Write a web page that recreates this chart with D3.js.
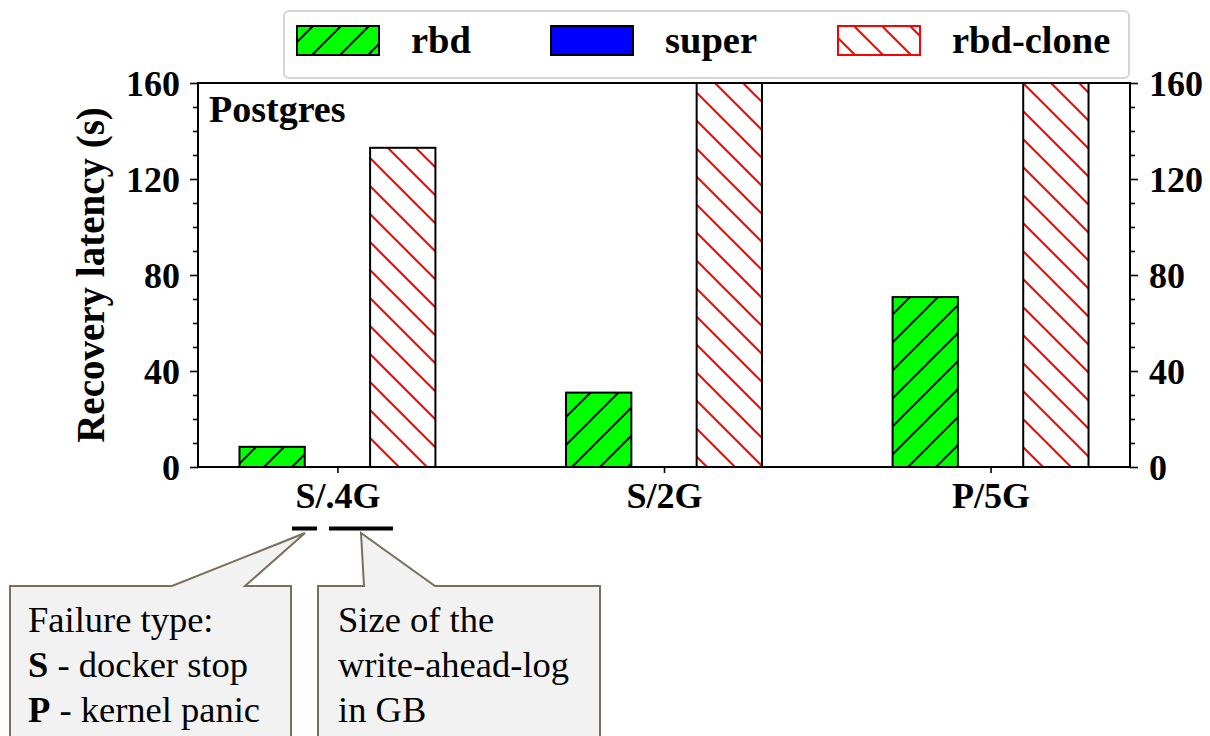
<!DOCTYPE html>
<html>
<head>
<meta charset="utf-8">
<script src="https://cdn.jsdelivr.net/npm/d3@7"></script>
<style>
  html, body { margin: 0; padding: 0; background: #fff; }
  svg { display: block; }
  text { font-family: "Liberation Serif", "Times New Roman", serif; }
</style>
</head>
<body>
<svg id="chart" width="1210" height="736"></svg>
<script>
// Workload configurations: failure type / write-ahead-log size
const categories = ["S/.4G", "S/2G", "P/5G"];
const seriesNames = ["rbd", "super", "rbd-clone"];
// Recovery latency in seconds (rbd-clone runs past the 160 s axis limit on S/2G and P/5G)
const rbdValues = [8.4, 31, 70.8];
const superValues = [0, 0, 0];
const rbdCloneValues = [133, 205, 240];
const yTicks = [0, 40, 80, 120, 160];
const yMinorTicks = [10, 20, 30, 50, 60, 70, 90, 100, 110, 130, 140, 150];

const svg = d3.select("#chart");
const plot = { left: 198, right: 1130, top: 83, bottom: 467 };

const x = d3.scalePoint().domain(categories).range([plot.left, plot.right]).padding(0.427);
const barW = x.step() * 0.2;
const offset = d3.scalePoint().domain(seriesNames).range([-barW, barW]);
const y = d3.scaleLinear().domain([0, 160]).range([plot.bottom, plot.top]);

// Hatch patterns
const defs = svg.append("defs");
const P = 28;
function hatch(id, dir, color, bg, shift) {
  const p = defs.append("pattern")
    .attr("id", id)
    .attr("patternUnits", "userSpaceOnUse")
    .attr("width", P).attr("height", P)
    .attr("patternTransform", `translate(${shift},0)`);
  p.append("rect").attr("width", P).attr("height", P).attr("fill", bg);
  const segs = dir === "/"
    ? [[-P, P, P, -P], [0, P, P, 0], [0, 2 * P, 2 * P, 0]]
    : [[-P, 0, P, 2 * P], [0, 0, P, P], [0, -P, 2 * P, P]];
  segs.forEach(s => p.append("line")
    .attr("x1", s[0]).attr("y1", s[1]).attr("x2", s[2]).attr("y2", s[3])
    .attr("stroke", color).attr("stroke-width", 2));
}
hatch("hatch-rbd", "/", "#000", "#00ff00", 3);
hatch("hatch-clone", "\\", "#ff0000", "#ffffff", 16);

defs.append("clipPath").attr("id", "plot-clip")
  .append("rect")
  .attr("x", plot.left).attr("y", plot.top)
  .attr("width", plot.right - plot.left).attr("height", plot.bottom - plot.top);

const series = [
  { name: "rbd", values: rbdValues, fill: "url(#hatch-rbd)", stroke: "#000", legendStroke: "#000" },
  { name: "super", values: superValues, fill: "#0000ff", stroke: "#000", legendStroke: "#000" },
  { name: "rbd-clone", values: rbdCloneValues, fill: "url(#hatch-clone)", stroke: "#000", legendStroke: "#ff0000" }
];

// Bars
const barsG = svg.append("g").attr("clip-path", "url(#plot-clip)");
series.forEach(s => {
  barsG.selectAll(null)
    .data(s.values.map((v, i) => ({ cat: categories[i], v })))
    .join("rect")
    .attr("x", d => x(d.cat) + offset(s.name) - barW / 2)
    .attr("y", d => y(d.v))
    .attr("width", barW)
    .attr("height", d => y(0) - y(d.v))
    .attr("fill", s.fill)
    .attr("stroke", s.stroke)
    .attr("stroke-width", 2);
});

// Frame
svg.append("rect")
  .attr("x", plot.left).attr("y", plot.top)
  .attr("width", plot.right - plot.left).attr("height", plot.bottom - plot.top)
  .attr("fill", "none").attr("stroke", "#000").attr("stroke-width", 2);

// Axes
function styleAxis(g) {
  g.attr("font-family", null);
  g.select(".domain").remove();
  g.selectAll(".tick line").attr("stroke", "#000").attr("stroke-width", 1.6);
  g.selectAll(".tick text")
    .attr("font-family", "Liberation Serif, serif")
    .attr("font-weight", "bold")
    .attr("font-size", "36px")
    .attr("fill", "#000");
}
const yLeft = svg.append("g").attr("transform", `translate(${plot.left},0)`)
  .call(d3.axisLeft(y).tickValues(yTicks).tickSize(8).tickPadding(10)).call(styleAxis);
svg.append("g").attr("transform", `translate(${plot.left},0)`)
  .call(d3.axisLeft(y).tickValues(yMinorTicks).tickSize(5).tickFormat("")).call(styleAxis);
const yRight = svg.append("g").attr("transform", `translate(${plot.right},0)`)
  .call(d3.axisRight(y).tickValues(yTicks).tickSize(8).tickPadding(11)).call(styleAxis);
svg.append("g").attr("transform", `translate(${plot.right},0)`)
  .call(d3.axisRight(y).tickValues(yMinorTicks).tickSize(5).tickFormat("")).call(styleAxis);
const xAxis = svg.append("g").attr("transform", `translate(0,${plot.bottom})`)
  .call(d3.axisBottom(x).tickSize(6).tickPadding(8)).call(styleAxis);

yLeft.selectAll(".tick text").attr("dy", null).attr("y", 12.5);
yRight.selectAll(".tick text").attr("dy", null).attr("y", 12.5);
xAxis.selectAll(".tick text").attr("dy", null).attr("y", 41);

// Y axis title
svg.append("text")
  .attr("transform", `translate(104,${(plot.top + plot.bottom) / 2}) rotate(-90)`)
  .attr("text-anchor", "middle")
  .attr("font-weight", "bold").attr("font-size", "39px")
  .text("Recovery latency (s)");

// Panel title
svg.append("text")
  .attr("x", 209).attr("y", 122)
  .attr("font-weight", "bold").attr("font-size", "38px")
  .text("Postgres");

// Legend
const legend = svg.append("g");
legend.append("rect")
  .attr("x", 284).attr("y", 11).attr("width", 845).attr("height", 67)
  .attr("rx", 5).attr("fill", "#fff").attr("fill-opacity", 0.85)
  .attr("stroke", "#d5d5d5").attr("stroke-width", 2);
const legendX = [297, 551, 838];
series.forEach((s, i) => {
  legend.append("rect")
    .attr("x", legendX[i]).attr("y", 26).attr("width", 82).attr("height", 29)
    .attr("fill", s.fill).attr("stroke", s.legendStroke).attr("stroke-width", 2);
  legend.append("text")
    .attr("x", legendX[i] + 114).attr("y", 53)
    .attr("font-weight", "bold").attr("font-size", "38.5px")
    .text(s.name);
});

// Underlines beneath the two parts of the first label
const firstLabel = xAxis.select(".tick text").node();
const fullW = firstLabel.getComputedTextLength();
const wS = firstLabel.getSubStringLength(0, 1);
const wSlash = firstLabel.getSubStringLength(1, 1);
const startX = x(categories[0]) - fullW / 2;
const ulY = 528.5;
svg.append("rect")
  .attr("x", startX - 3).attr("y", ulY - 2)
  .attr("width", wS + 5).attr("height", 4).attr("fill", "#000");
svg.append("rect")
  .attr("x", startX + wS + wSlash + 4).attr("y", ulY - 2)
  .attr("width", fullW - wS - wSlash + 9).attr("height", 4).attr("fill", "#000");

// Callout boxes
const callouts = [
  { pts: [[10, 586], [172, 586], [305, 533], [245, 586], [291, 586], [291, 745], [10, 745]],
    tx: 28, lines: [[["", "Failure type:"]], [["b", "S"], ["", " - docker stop"]], [["b", "P"], ["", " - kernel panic"]]] },
  { pts: [[318, 586], [364, 586], [361, 533], [435, 586], [600, 586], [600, 745], [318, 745]],
    tx: 338, lines: [[["", "Size of the"]], [["", "write-ahead-log"]], [["", "in GB"]]] }
];
callouts.forEach(c => {
  svg.append("path")
    .attr("d", d3.line()(c.pts) + "Z")
    .attr("fill", "#f2f2f2").attr("stroke", "#7a6e5c").attr("stroke-width", 2);
  c.lines.forEach((ln, j) => {
    const t = svg.append("text")
      .attr("x", c.tx).attr("y", 632 + j * 45)
      .attr("font-size", "36.5px").attr("fill", "#000");
    ln.forEach(part => t.append("tspan")
      .attr("font-weight", part[0] === "b" ? "bold" : "normal")
      .text(part[1]));
  });
});
</script>
</body>
</html>
